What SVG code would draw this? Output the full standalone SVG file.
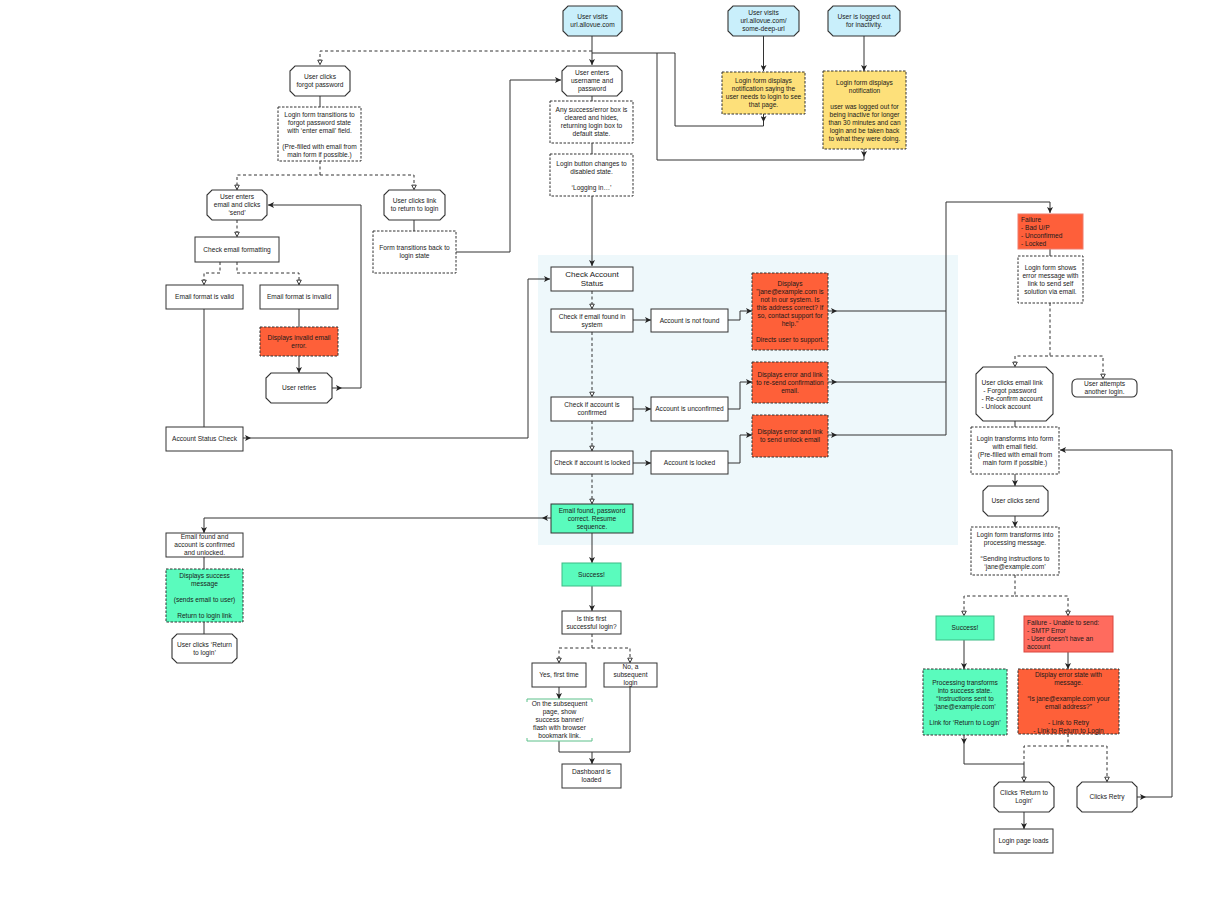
<svg xmlns="http://www.w3.org/2000/svg" width="1219" height="900" viewBox="0 0 1219 900">
<style>
.t{font-family:"Liberation Sans",Arial,sans-serif;font-size:6.6px;fill:#1a1a1a;text-anchor:middle}
.tl{text-anchor:start}
.big{font-size:8px}
.b{fill:#fff;stroke:#333;stroke-width:1}
.o{fill:#fff;stroke:#333;stroke-width:1.1}
.start{fill:#c9effb;stroke:#333;stroke-width:1.1}
.d{stroke-dasharray:2.5 1.5}
.yel{fill:#fde07a}
.red{fill:#fe6039}
.grn{fill:#5afbbd}
.e{fill:none;stroke:#333;stroke-width:1}
.ed{stroke-dasharray:3 2.5}
</style>
<defs>
<marker id="af" viewBox="0 0 8 8" refX="8" refY="4" markerWidth="6" markerHeight="6" orient="auto" markerUnits="userSpaceOnUse"><path d="M0,0 L8,4 L0,8 L2,4 z" fill="#222"/></marker>
<marker id="ao" viewBox="0 0 8 8" refX="7.5" refY="4" markerWidth="6" markerHeight="6" orient="auto" markerUnits="userSpaceOnUse"><path d="M1,1 L7,4 L1,7 z" fill="#fff" stroke="#222" stroke-width="1.2"/></marker>
</defs>
<rect width="1219" height="900" fill="#fff"/>
<rect id="group-bg" x="538" y="255" width="420" height="290" fill="#eef8fb"/>

<g id="connectors">
<path class="e" d="M592,36 L592,65" marker-end="url(#af)"/>
<path class="e ed" d="M592,51 L320,51 L320,65" marker-end="url(#ao)"/>
<path class="e" d="M763.5,113 L763.5,122" marker-end="url(#af)"/>
<path class="e" d="M763.5,122 L763.5,126 L675,126 L675,53 L592,53"/>
<path class="e" d="M864,149 L864,157" marker-end="url(#af)"/>
<path class="e" d="M864,157 L864,160 L657,160 L657,53"/>
<path class="e" d="M763.5,36 L763.5,71" marker-end="url(#af)"/>
<path class="e" d="M864,36 L864,71" marker-end="url(#af)"/>
<path class="e" d="M592,96 L592,101"/>
<path class="e" d="M592,143 L592,154"/>
<path class="e" d="M592,196 L592,266" marker-end="url(#af)"/>
<path class="e" d="M456,252 L510,252 L510,80 L561,80" marker-end="url(#af)"/>
<path class="e" d="M320,96 L320,107"/>
<path class="e ed" d="M320,161 L320,175 L237,175 L237,190" marker-end="url(#ao)"/>
<path class="e ed" d="M320,175 L414,175 L414,190" marker-end="url(#ao)"/>
<path class="e" d="M414,220 L414,231"/>
<path class="e ed" d="M237,220 L237,237" marker-end="url(#ao)"/>
<path class="e ed" d="M220,262 L220,273 L204,273 L204,285" marker-end="url(#ao)"/>
<path class="e ed" d="M237,262 L237,273 L299,273 L299,285" marker-end="url(#ao)"/>
<path class="e" d="M299,308 L299,327"/>
<path class="e" d="M299,356 L299,373" marker-end="url(#af)"/>
<path class="e" d="M332,388 L342,388" marker-end="url(#af)"/>
<path class="e" d="M342,388 L361,388 L361,205 L268,205" marker-end="url(#af)"/>
<path class="e" d="M204,308 L204,427"/>
<path class="e" d="M243,438 L251,438" marker-end="url(#af)"/>
<path class="e" d="M251,438 L528,438 L528,279 L550,279" marker-end="url(#af)"/>
<path class="e ed" d="M592,291 L592,309" marker-end="url(#ao)"/>
<path class="e" d="M633,320 L651,320" marker-end="url(#af)"/>
<path class="e" d="M728,320 L740,320 L740,311 L752,311" marker-end="url(#af)"/>
<path class="e ed" d="M592,332 L592,397" marker-end="url(#ao)"/>
<path class="e" d="M633,409 L651,409" marker-end="url(#af)"/>
<path class="e" d="M728,409 L740,409 L740,382 L752,382" marker-end="url(#af)"/>
<path class="e ed" d="M592,421 L592,451" marker-end="url(#ao)"/>
<path class="e" d="M633,463 L651,463" marker-end="url(#af)"/>
<path class="e" d="M728,463 L740,463 L740,435 L752,435" marker-end="url(#af)"/>
<path class="e ed" d="M592,474 L592,504" marker-end="url(#ao)"/>
<path class="e" d="M828,311 L837,311" marker-end="url(#af)"/>
<path class="e" d="M837,311 L946,311"/>
<path class="e" d="M828,382 L837,382" marker-end="url(#af)"/>
<path class="e" d="M837,382 L946,382"/>
<path class="e" d="M828,435 L837,435" marker-end="url(#af)"/>
<path class="e" d="M837,435 L946,435 L946,202 L1050,202 L1050,213" marker-end="url(#af)"/>
<path class="e" d="M551,518 L542,518" marker-end="url(#af)"/>
<path class="e" d="M542,518 L204,518 L204,533" marker-end="url(#af)"/>
<path class="e" d="M592,533 L592,563" marker-end="url(#af)"/>
<path class="e" d="M592,586 L592,611" marker-end="url(#af)"/>
<path class="e ed" d="M592,634 L592,648 L559,648 L559,663" marker-end="url(#ao)"/>
<path class="e ed" d="M592,648 L630,648 L630,663" marker-end="url(#ao)"/>
<path class="e" d="M559,687 L559,699" marker-end="url(#af)"/>
<path class="e" d="M559,741 L559,752 L630,752 L630,687"/>
<path class="e" d="M592,752 L592,764" marker-end="url(#af)"/>
<path class="e" d="M204,557 L204,569"/>
<path class="e" d="M204,622 L204,634"/>
<path class="e" d="M1050,249 L1050,256"/>
<path class="e ed" d="M1050,303 L1050,356 L1015,356 L1015,367" marker-end="url(#ao)"/>
<path class="e ed" d="M1050,356 L1103,356 L1103,379" marker-end="url(#ao)"/>
<path class="e" d="M1015,421 L1015,427"/>
<path class="e" d="M1015,474 L1015,486" marker-end="url(#af)"/>
<path class="e" d="M1015,516 L1015,527" marker-end="url(#af)"/>
<path class="e ed" d="M1015,575 L1015,596 L964,596 L964,616" marker-end="url(#ao)"/>
<path class="e ed" d="M1015,596 L1068,596 L1068,616" marker-end="url(#ao)"/>
<path class="e" d="M964,640 L964,669" marker-end="url(#af)"/>
<path class="e" d="M1068,652 L1068,669" marker-end="url(#af)"/>
<path class="e" d="M964,735 L964,744" marker-end="url(#af)"/>
<path class="e" d="M964,744 L964,764 L1024,764 L1024,782" marker-end="url(#ao)"/>
<path class="e ed" d="M1068,734 L1068,746 L1024,746 L1024,764"/>
<path class="e ed" d="M1068,746 L1107,746 L1107,782" marker-end="url(#ao)"/>
<path class="e" d="M1024,812 L1024,829" marker-end="url(#af)"/>
<path class="e" d="M1137,797 L1146,797" marker-end="url(#af)"/>
<path class="e" d="M1146,797 L1172,797 L1172,450 L1060,450" marker-end="url(#af)"/>
</g>

<g id="n-visit"><polygon class="start" points="568,6 617,6 622,11 622,31 617,36 568,36 563,31 563,11"/><text class="t" x="592.5" y="19.3">User visits<tspan x="592.5" dy="8">url.allovue.com</tspan></text></g>
<g id="n-deep"><polygon class="start" points="733,6 794,6 799,11 799,31 794,36 733,36 728,31 728,11"/><text class="t" x="763.5" y="15.3">User visits<tspan x="763.5" dy="8">url.allovue.com/</tspan><tspan x="763.5" dy="8">some-deep-url</tspan></text></g>
<g id="n-logout"><polygon class="start" points="833,6 895,6 900,11 900,31 895,36 833,36 828,31 828,11"/><text class="t" x="864" y="19.3">User is logged out<tspan x="864" dy="8">for inactivity.</tspan></text></g>
<g id="n-enter"><polygon class="o" points="567,66 617,66 622,71 622,91 617,96 567,96 562,91 562,71"/><text class="t" x="592" y="75.3">User enters<tspan x="592" dy="8">username and</tspan><tspan x="592" dy="8">password</tspan></text></g>
<g id="n-clear"><rect class="b d" x="550" y="101" width="83" height="42"/><text class="t" x="591.5" y="112.3">Any success/error box is<tspan x="591.5" dy="8">cleared and hides,</tspan><tspan x="591.5" dy="8">returning login box to</tspan><tspan x="591.5" dy="8">default state.</tspan></text></g>
<g id="n-disabled"><rect class="b d" x="550" y="154" width="83" height="42"/><text class="t" x="591.5" y="166">Login button changes to<tspan x="591.5" dy="8">disabled state.</tspan><tspan x="591.5" dy="16">‘Logging in…’</tspan></text></g>
<g id="n-notif1"><rect class="yel" stroke="#333" stroke-width="1" stroke-dasharray="2.5 1.5" x="722" y="72" width="83" height="42"/><text class="t" x="763.5" y="83.3">Login form displays<tspan x="763.5" dy="8">notification saying the</tspan><tspan x="763.5" dy="8">user needs to login to see</tspan><tspan x="763.5" dy="8">that page.</tspan></text></g>
<g id="n-notif2"><rect class="yel" stroke="#333" stroke-width="1" stroke-dasharray="2.5 1.5" x="823" y="71" width="83" height="78"/><text class="t" x="864.5" y="84.8">Login form displays<tspan x="864.5" dy="8">notification</tspan><tspan x="864.5" dy="16">user was logged out for</tspan><tspan x="864.5" dy="8">being inactive for longer</tspan><tspan x="864.5" dy="8">than 30 minutes and can</tspan><tspan x="864.5" dy="8">login and be taken back</tspan><tspan x="864.5" dy="8">to what they were doing.</tspan></text></g>

<g id="n-forgot"><polygon class="o" points="295,66 345,66 350,71 350,91 345,96 295,96 290,91 290,71"/><text class="t" x="320" y="79.3">User clicks<tspan x="320" dy="8">forgot password</tspan></text></g>
<g id="n-forgotstate"><rect class="b d" x="278" y="107" width="83" height="54"/><text class="t" x="319.5" y="117">Login form transitions to<tspan x="319.5" dy="8">forgot password state</tspan><tspan x="319.5" dy="8">with ‘enter email’ field.</tspan><tspan x="319.5" dy="16">(Pre-filled with email from</tspan><tspan x="319.5" dy="8">main form if possible.)</tspan></text></g>
<g id="n-enteremail"><polygon class="o" points="212,190 262,190 267,195 267,215 262,220 212,220 207,215 207,195"/><text class="t" x="237" y="199.3">User enters<tspan x="237" dy="8">email and clicks</tspan><tspan x="237" dy="8">‘send’</tspan></text></g>
<g id="n-returnlink"><polygon class="o" points="389,190 440,190 445,195 445,215 440,220 389,220 384,215 384,195"/><text class="t" x="414.5" y="203.3">User clicks link<tspan x="414.5" dy="8">to return to login</tspan></text></g>
<g id="n-formback"><rect class="b d" x="373" y="231" width="83" height="42"/><text class="t" x="414.5" y="250.3">Form transitions back to<tspan x="414.5" dy="8">login state</tspan></text></g>
<g id="n-checkfmt"><rect class="b" x="195" y="237" width="84" height="25"/><text class="t" x="237" y="251.8">Check email formatting</text></g>
<g id="n-valid"><rect class="b" x="166" y="285" width="77" height="24"/><text class="t" x="204.5" y="299.3">Email format is valid</text></g>
<g id="n-invalid"><rect class="b" x="260" y="285" width="78" height="24"/><text class="t" x="299" y="299.3">Email format is invalid</text></g>
<g id="n-invaliderr"><rect class="red" stroke="#333" stroke-width="1" stroke-dasharray="2.5 1.5" x="260" y="327" width="78" height="29"/><text class="t" x="299" y="339.8">Displays invalid email<tspan x="299" dy="8">error.</tspan></text></g>
<g id="n-retries"><polygon class="o" points="271,373 327,373 332,378 332,398 327,403 271,403 266,398 266,378"/><text class="t" x="299" y="390.3">User retries</text></g>
<g id="n-statuscheck"><rect class="b" x="166" y="427" width="77" height="24"/><text class="t" x="204.5" y="441.3">Account Status Check</text></g>

<g id="n-checkstatus"><rect class="b" x="551" y="267" width="82" height="24"/><text class="t big" x="592" y="277.3">Check Account<tspan x="592" dy="9">Status</tspan></text></g>
<g id="n-found"><rect class="b" x="551" y="309" width="82" height="23"/><text class="t" x="592" y="318.8">Check if email found in<tspan x="592" dy="8">system</tspan></text></g>
<g id="n-notfound"><rect class="b" x="651" y="309" width="77" height="23"/><text class="t" x="689.5" y="322.8">Account is not found</text></g>
<g id="n-err1"><rect class="red" stroke="#333" stroke-width="1" stroke-dasharray="2.5 1.5" x="752" y="273" width="76" height="77"/><text class="t" x="790" y="285.8">Displays<tspan x="790" dy="8">"jane@example.com is</tspan><tspan x="790" dy="8">not in our system. Is</tspan><tspan x="790" dy="8">this address correct? If</tspan><tspan x="790" dy="8">so, contact support for</tspan><tspan x="790" dy="8">help."</tspan><tspan x="790" dy="16">Directs user to support.</tspan></text></g>
<g id="n-confirmed"><rect class="b" x="551" y="397" width="82" height="24"/><text class="t" x="592" y="407.3">Check if account is<tspan x="592" dy="8">confirmed</tspan></text></g>
<g id="n-unconfirmed"><rect class="b" x="651" y="397" width="77" height="24"/><text class="t" x="689.5" y="411.3">Account is unconfirmed</text></g>
<g id="n-err2"><rect class="red" stroke="#333" stroke-width="1" stroke-dasharray="2.5 1.5" x="752" y="362" width="76" height="41"/><text class="t" x="790" y="376.8">Displays error and link<tspan x="790" dy="8">to re-send confirmation</tspan><tspan x="790" dy="8">email.</tspan></text></g>
<g id="n-lockedq"><rect class="b" x="551" y="451" width="82" height="23"/><text class="t" x="592" y="464.8">Check if account is locked</text></g>
<g id="n-locked"><rect class="b" x="651" y="451" width="77" height="23"/><text class="t" x="689.5" y="464.8">Account is locked</text></g>
<g id="n-err3"><rect class="red" stroke="#333" stroke-width="1" stroke-dasharray="2.5 1.5" x="752" y="415" width="76" height="42"/><text class="t" x="790" y="434.3">Displays error and link<tspan x="790" dy="8">to send unlock email</tspan></text></g>
<g id="n-resume"><rect class="grn" stroke="#333" stroke-width="1" x="551" y="504" width="82" height="29"/><text class="t" x="592" y="512.8">Email found, password<tspan x="592" dy="8">correct. Resume</tspan><tspan x="592" dy="8">sequence.</tspan></text></g>

<g id="n-success"><rect class="grn" stroke="#3dbb85" stroke-width="1" x="562" y="563" width="59" height="23"/><text class="t" x="591.5" y="576.8">Success!</text></g>
<g id="n-firstq"><rect class="b" x="562" y="611" width="59" height="23"/><text class="t" x="591.5" y="620.8">Is this first<tspan x="591.5" dy="8">successful login?</tspan></text></g>
<g id="n-yes"><rect class="b" x="532" y="663" width="54" height="24"/><text class="t" x="559" y="677.3">Yes, first time</text></g>
<g id="n-no"><rect class="b" x="604" y="663" width="53" height="24"/><text class="t" x="630.5" y="669.3">No, a<tspan x="630.5" dy="8">subsequent</tspan><tspan x="630.5" dy="8">login</tspan></text></g>
<g id="n-banner"><rect x="527" y="699" width="65" height="42" fill="#fff"/><path d="M527,702 L527,699 L592,699 L592,702 M527,738 L527,741 L592,741 L592,738" fill="none" stroke="#5cc08a" stroke-width="1"/><text class="t" x="559.5" y="706.3">On the subsequent<tspan x="559.5" dy="8">page, show</tspan><tspan x="559.5" dy="8">success banner/</tspan><tspan x="559.5" dy="8">flash with browser</tspan><tspan x="559.5" dy="8">bookmark link.</tspan></text></g>
<g id="n-dashboard"><rect class="b" x="562" y="764" width="59" height="24"/><text class="t" x="591.5" y="774.3">Dashboard is<tspan x="591.5" dy="8">loaded</tspan></text></g>

<g id="n-foundok"><rect class="b" x="166" y="533" width="77" height="24"/><text class="t" x="204.5" y="539.3">Email found and<tspan x="204.5" dy="8">account is confirmed</tspan><tspan x="204.5" dy="8">and unlocked.</tspan></text></g>
<g id="n-successmsg"><rect class="grn" stroke="#333" stroke-width="1" stroke-dasharray="2.5 1.5" x="166" y="569" width="77" height="53"/><text class="t" x="204.5" y="577.8">Displays success<tspan x="204.5" dy="8">message</tspan><tspan x="204.5" dy="16">(sends email to user)</tspan><tspan x="204.5" dy="16">Return to login link</tspan></text></g>
<g id="n-returnclick"><polygon class="o" points="177,634 232,634 237,639 237,658 232,663 177,663 172,658 172,639"/><text class="t" x="204.5" y="646.8">User clicks ‘Return<tspan x="204.5" dy="8">to login’</tspan></text></g>

<g id="n-failure"><rect fill="#fe5f3a" stroke="#f07a6a" stroke-width="1" x="1018" y="214" width="65" height="35"/><text class="t tl" x="1021" y="221.8">Failure<tspan x="1021" dy="8">- Bad U/P</tspan><tspan x="1021" dy="8">- Unconfirmed</tspan><tspan x="1021" dy="8">- Locked</tspan></text></g>
<g id="n-errmsg"><rect class="b d" x="1018" y="256" width="65" height="47"/><text class="t" x="1050.5" y="269.8">Login form shows<tspan x="1050.5" dy="8">error message with</tspan><tspan x="1050.5" dy="8">link to send self</tspan><tspan x="1050.5" dy="8">solution via email.</tspan></text></g>
<g id="n-emaillink"><polygon class="o" points="983,367 1046,367 1053,374 1053,414 1046,421 983,421 976,414 976,374"/><text class="t tl" x="981.5" y="385">User clicks email link<tspan x="981.5" dy="8"> - Forgot password</tspan><tspan x="981.5" dy="8">- Re-confirm account</tspan><tspan x="981.5" dy="8">- Unlock account</tspan></text></g>
<g id="n-attempt"><rect class="o" x="1072" y="379" width="65" height="18" rx="5"/><text class="t" x="1104.5" y="386.3">User attempts<tspan x="1104.5" dy="8">another login.</tspan></text></g>
<g id="n-emailform"><rect class="b d" x="971" y="427" width="88" height="47"/><text class="t" x="1015" y="440.8">Login transforms into form<tspan x="1015" dy="8">with email field.</tspan><tspan x="1015" dy="8">(Pre-filled with email from</tspan><tspan x="1015" dy="8">main form if possible.)</tspan></text></g>
<g id="n-send"><polygon class="o" points="988,486 1043,486 1048,491 1048,511 1043,516 988,516 983,511 983,491"/><text class="t" x="1015.5" y="503.3">User clicks send</text></g>
<g id="n-processing"><rect class="b d" x="971" y="527" width="88" height="48"/><text class="t" x="1015" y="537.3">Login form transforms into<tspan x="1015" dy="8">processing message.</tspan><tspan x="1015" dy="16">“Sending instructions to</tspan><tspan x="1015" dy="8">‘jane@example.com’</tspan></text></g>
<g id="n-success2"><rect class="grn" stroke="#3dbb85" stroke-width="1" x="936" y="616" width="58" height="24"/><text class="t" x="965" y="630.3">Success!</text></g>
<g id="n-failure2"><rect fill="#ff6b5e" stroke="#d9473f" stroke-width="1" x="1024" y="616" width="89" height="36"/><text class="t tl" x="1027" y="624.6">Failure - Unable to send:<tspan x="1027" dy="8">- SMTP Error</tspan><tspan x="1027" dy="8">- User doesn't have an</tspan><tspan x="1027" dy="8">account</tspan></text></g>
<g id="n-sent"><rect class="grn" stroke="#333" stroke-width="1" stroke-dasharray="2.5 1.5" x="923" y="669" width="84" height="66"/><text class="t" x="965" y="684.8">Processing transforms<tspan x="965" dy="8">into success state.</tspan><tspan x="965" dy="8">“Instructions sent to</tspan><tspan x="965" dy="8">‘jane@example.com’</tspan><tspan x="965" dy="16">Link for ‘Return to Login’</tspan></text></g>
<g id="n-senderr"><rect class="red" stroke="#333" stroke-width="1" stroke-dasharray="2.5 1.5" x="1018" y="669" width="101" height="65"/><text class="t" x="1068.5" y="677">Display error state with<tspan x="1068.5" dy="8">message.</tspan><tspan x="1068.5" dy="16">“Is jane@example.com your</tspan><tspan x="1068.5" dy="8">email address?”</tspan><tspan x="1068.5" dy="16">- Link to Retry</tspan><tspan x="1068.5" dy="8">- Link to Return to Login</tspan></text></g>
<g id="n-clickreturn"><polygon class="o" points="999,782 1049,782 1054,787 1054,807 1049,812 999,812 994,807 994,787"/><text class="t" x="1024" y="795.3">Clicks ‘Return to<tspan x="1024" dy="8">Login’</tspan></text></g>
<g id="n-retry"><polygon class="o" points="1082,782 1132,782 1137,787 1137,807 1132,812 1082,812 1077,807 1077,787"/><text class="t" x="1107" y="799.3">Clicks Retry</text></g>
<g id="n-loginpage"><rect class="b" x="994" y="829" width="59" height="24"/><text class="t" x="1023.5" y="843.3">Login page loads</text></g>
</svg>
